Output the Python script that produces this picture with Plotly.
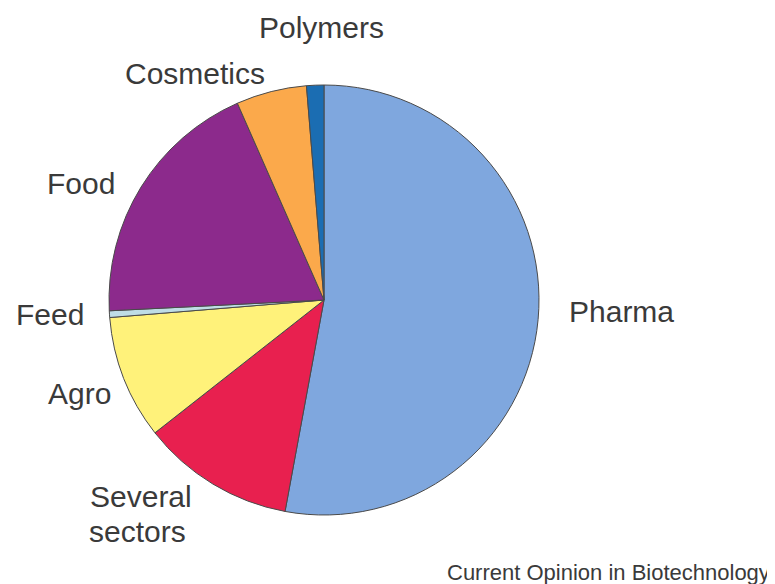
import plotly.graph_objects as go

sectors = ["Pharma", "Several sectors", "Agro", "Feed", "Food", "Cosmetics", "Polymers"]
shares = [52.9, 11.5, 9.3, 0.5, 19.2, 5.3, 1.3]
colors = ["#7FA7DE", "#E8204F", "#FFF27A", "#BFDDE6", "#8C2A8C", "#FBA94B", "#1B6DB2"]

label_text = ["Pharma", "Several", "sectors", "Agro", "Feed", "Food", "Cosmetics", "Polymers"]
# (x, y-center, anchor) in target page pixels
label_pos = [(567, 311, "left"), (88, 496, "left"), (87, 531, "left"), (113, 393, "right"),
             (86, 314, "right"), (117, 183, "right"), (267, 73, "right"), (257, 28, "left")]

OFF = 8  # page body margin
W, H = 775 - OFF, 584 - OFF


def px(x):
    return (x - OFF) / W


def py(y):
    return 1 - (y - OFF) / H


fig = go.Figure(go.Pie(
    labels=sectors, values=shares, sort=False, direction="clockwise", rotation=0,
    marker=dict(colors=colors, line=dict(color="#4a4a4a", width=1)),
    textinfo="none", hoverinfo="label+percent", showlegend=False,
    domain=dict(x=[px(109), px(539)], y=[py(515), py(85)]),
))

for txt, (x, y, side) in zip(label_text, label_pos):
    fig.add_annotation(text=txt, x=px(x), y=py(y), xref="paper", yref="paper",
                       xanchor=side, yanchor="middle", showarrow=False, align="left",
                       font=dict(family="Liberation Sans, Arial", size=30, color="#3a3a3a"))

fig.add_annotation(text="Current Opinion in Biotechnology", x=px(772), y=py(572),
                   xref="paper", yref="paper", xanchor="right", yanchor="middle",
                   showarrow=False,
                   font=dict(family="Liberation Sans, Arial", size=22, color="#3a3a3a"))

fig.update_layout(width=W, height=H, margin=dict(l=0, r=0, t=0, b=0),
                  paper_bgcolor="white", plot_bgcolor="white")
fig.write_html("out.html")
